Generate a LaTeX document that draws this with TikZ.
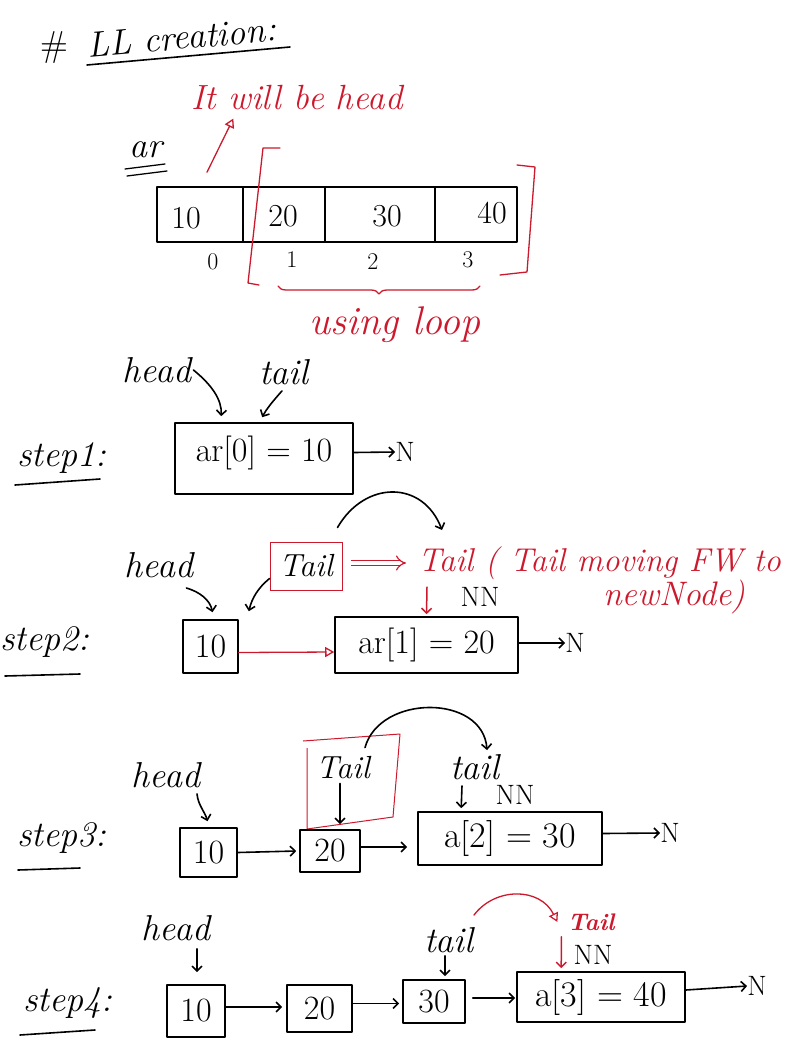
\documentclass[tikz,border=0pt]{standalone}
\usepackage{fontspec}
\usetikzlibrary{arrows.meta,calc,decorations.pathreplacing}
\definecolor{hred}{RGB}{205,25,45}
\begin{document}
\begin{tikzpicture}[x=1pt,y=-1pt,
  ink/.style={line width=1.6pt, line cap=round, line join=round},
  arr/.style={ink, -{Straight Barb[length=5pt,width=10pt]}},
  redline/.style={hred, line width=1.3pt, line cap=round, line join=round},
  redarr/.style={redline, -{Triangle[open,length=9pt,width=10pt]}},
  redbarb/.style={redline, line width=1.5pt, -{Straight Barb[length=5pt,width=10pt]}},
  lbl/.style={inner sep=0pt, font=\fontsize{36}{40}\selectfont\itshape},
  rlbl/.style={lbl, text=hred},
  val/.style={inner sep=0pt, font=\fontsize{32}{36}\selectfont},
  small/.style={inner sep=0pt, font=\fontsize{28}{30}\selectfont},
  idx/.style={inner sep=0pt, font=\fontsize{24}{26}\selectfont},
  cell/.style={draw, ink, minimum height=55pt, inner sep=0pt},
  nbox/.style={draw, ink, inner sep=0pt, font=\fontsize{34}{38}\selectfont},
]
\useasboundingbox (0,0) rectangle (807,1054);

% ---------- title ----------
\node[val, font=\fontsize{36}{40}\selectfont] (hash) at (54,48) {\#};
\node[lbl, font=\fontsize{36}{40}\selectfont\itshape, anchor=south west, rotate=5] (title) at (88,58) {LL creation:};
\draw[ink] (87,65) -- (290,47);

% ---------- array ----------
\node[rlbl, font=\fontsize{35}{38}\selectfont\itshape] (will) at (297,98) {It will be head};
\node[lbl] (ar) at (146,150) {ar};
\draw[ink, line width=1.3pt] (125,169) -- (165,164);
\draw[ink, line width=1.3pt] (127,176) -- (167,171);

\node[cell, minimum width=86pt] (c0) at (200,214.5) {};
\node[cell, minimum width=82pt] (c1) at (284,214.5) {};
\node[cell, minimum width=110pt] (c2) at (380,214.5) {};
\node[cell, minimum width=82pt] (c3) at (476,214.5) {};
\node[val] (v0) at (186,218) {10};
\node[val] (v1) at (283,216) {20};
\node[val] (v2) at (387,216) {30};
\node[val] (v3) at (492,213) {40};
\node[idx] (i0) at (213,262) {0};
\node[idx] (i1) at (292,260) {1};
\node[idx] (i2) at (373,262) {2};
\node[idx] (i3) at (468,260) {3};

\draw[redarr] ($(c0.north)+(7,-14)$) -- ($(will.south west)+(42,8)$);
\draw[redline] (280,148) -- (263,148) -- (248,283) -- (259,285);
\draw[redline] (517,165) -- (535,167) -- (527,272) -- (500,275);
\draw[redline, decorate, decoration={brace,mirror,amplitude=8pt}] (278,286) -- (480,286);
\node[rlbl, font=\fontsize{40}{44}\selectfont\itshape] (loop) at (395,325) {using loop};

% ---------- step 1 ----------
\node[lbl] (st1) at (62,458) {step1:};
\draw[ink] (15,485) -- (100,479);
\node[lbl] (h1) at (157,370) {head};
\node[lbl] (t1) at (284,372) {tail};
\node[nbox, minimum width=178pt, minimum height=71pt, text height=24pt, text depth=19pt] (s1) at (264,458.5) {ar[0] = 10};
\node[small] (n1) at (405,452) {N};
\draw[arr] ($(h1.east)+(2,0)$) .. controls (212,385) and (222,400) .. ($(s1.north west)+(47,-6)$);
\draw[arr] ($(t1.south)+(-2,6)$) .. controls (274,400) and (267,408) .. ($(s1.north west)+(88,-5)$);
\draw[arr] ($(s1.east)+(0,-6)$) -- (n1.west);

% ---------- step 2 ----------
\node[lbl] (st2) at (45,642) {step2:};
\draw[ink] (5,676) -- (80,674);
\node[lbl] (h2) at (159,565) {head};
\node[lbl, font=\fontsize{32}{36}\selectfont\itshape, draw=hred, line width=1pt, minimum width=72pt, minimum height=48pt] (r2) at (306,566) {Tail};
\node[rlbl, font=\fontsize{33}{36}\selectfont\itshape, anchor=west] (rt) at (418,563) {Tail ( Tail moving FW to};
\node[rlbl, font=\fontsize{34}{36}\selectfont\itshape] (rt2) at (674,597) {newNode)};
\node[small] (nn2) at (480,597) {NN};
\node[nbox, minimum width=55pt, minimum height=53pt] (b2a) at (210.5,646.5) {10};
\node[nbox, minimum width=183pt, minimum height=56pt] (b2b) at (426.5,645) {ar[1] = 20};
\node[small] (n2) at (575,643) {N};

\draw[arr] ($(r2.north east)+(-5,-14)$) .. controls (365,480) and (423,480) .. ($(rt.west)+(24,-33)$);
\draw[hred, line width=1.2pt, double, double distance=4pt, -Implies] ($(r2.east)+(8,-3)$) -- ($(rt.west)+(-12,0)$);
\draw[redbarb] ($(rt.west)+(9,24)$) -- ($(b2b.north)+(0,-2)$);
\draw[arr] ($(r2.south west)+(0,-12)$) .. controls (258,588) and (252,598) .. ($(b2a.north east)+(10,-8)$);
\draw[arr] ($(h2.east)+(-7,23)$) .. controls (200,592) and (210,600) .. ($(b2a.north)+(2,-7)$);
\draw[redarr] ($(b2a.east)+(0,6)$) -- ($(b2b.west)+(0,7)$);
\draw[arr] ($(b2b.east)+(0,-2)$) -- (n2.west);

% ---------- step 3 ----------
\node[lbl] (st3) at (62,838) {step3:};
\draw[ink] (18,870) -- (80,868);
\node[lbl] (h3) at (166,775) {head};
\draw[hred, line width=1pt, line join=round] (303,741) -- (400,734) -- (393,817) -- (307,829) -- (307,748);
\node[lbl, font=\fontsize{32}{36}\selectfont\itshape] (t3a) at (343,768) {Tail};
\node[lbl] (t3b) at (475,767) {tail};
\node[small] (nn3) at (515,795) {NN};
\node[nbox, minimum width=57pt, minimum height=49pt] (b3a) at (208.5,852.5) {10};
\node[nbox, minimum width=60pt, minimum height=42pt] (b3b) at (330,851) {20};
\node[nbox, minimum width=184pt, minimum height=53pt, font=\fontsize{36}{40}\selectfont] (b3c) at (510,838.5) {a[2] = 30};
\node[small] (n3) at (670,833) {N};

\draw[arr] ($(t3a.north east)+(-5,-9)$) .. controls (380,694) and (483,694) .. ($(t3b.north)+(12,-4)$);
\draw[arr] ($(t3a.south)+(-3,4)$) -- ($(b3b.north)+(10,-5)$);
\draw[arr] ($(t3b.south)+(-13,6)$) -- ($(b3c.north west)+(44,-3)$);
\draw[arr] ($(h3.south)+(31,6)$) .. controls (198,805) and (205,812) .. ($(b3a.north)+(-1,-6)$);
\draw[arr] (b3a.east) -- ($(b3b.west)+(-3,0)$);
\draw[arr] ($(b3b.east)+(0,-4)$) -- ($(b3c.west)+(-10,8.5)$);
\draw[arr] ($(b3c.east)+(0,-5)$) -- (n3.west);

% ---------- step 4 ----------
\node[lbl] (st4) at (68,1003) {step4:};
\draw[ink] (20,1035) -- (95,1030);
\node[lbl] (h4) at (176,928) {head};
\node[lbl] (t4) at (449,940) {tail};
\node[rlbl, font=\fontsize{24}{26}\selectfont\itshape\bfseries] (T4) at (591,922) {Tail};
\node[small] (nn4) at (593,955) {NN};
\node[nbox, minimum width=58pt, minimum height=52pt] (b4a) at (196,1011) {10};
\node[nbox, minimum width=65pt, minimum height=47pt] (b4b) at (319.5,1008.5) {20};
\node[nbox, minimum width=62pt, minimum height=43pt] (b4c) at (434,1001.5) {30};
\node[nbox, minimum width=168pt, minimum height=50pt, font=\fontsize{36}{40}\selectfont] (b4d) at (601,997) {a[3] = 40};
\node[small] (n4) at (757,986) {N};

\draw[arr] ($(h4.south)+(21,8)$) -- ($(b4a.north)+(1,-12)$);
\draw[arr] ($(t4.south)+(-4,3)$) -- ($(b4c.north)+(11,-3)$);
\draw[redarr] ($(t4.north east)+(0,-12)$) .. controls (495,887) and (540,887) .. ($(T4.west)+(-10,0)$);
\draw[redbarb] ($(T4.south west)+(-6,6)$) -- ($(b4d.north west)+(45,-3)$);
\draw[arr] ($(b4a.east)+(0,-4)$) -- ($(b4b.west)+(-4,-1.5)$);
\draw[arr] ($(b4b.east)+(0,-5)$) -- ($(b4c.west)+(-3,2)$);
\draw[arr] ($(b4c.east)+(7,-3.5)$) -- ($(b4d.west)+(-1,1)$);
\draw[arr] ($(b4d.east)+(0,-7)$) -- (n4.west);
\end{tikzpicture}
\end{document}
